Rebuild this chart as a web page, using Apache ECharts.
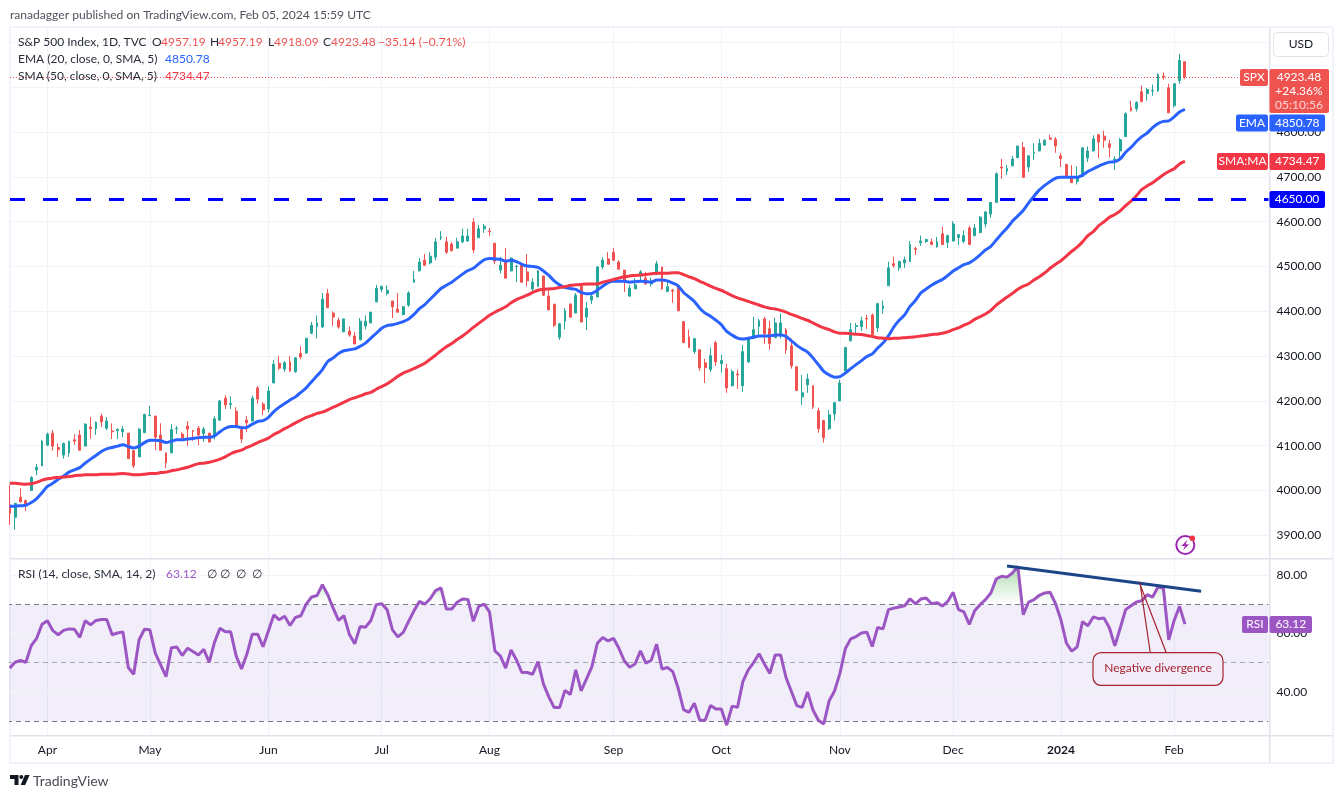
<!DOCTYPE html>
<html><head><meta charset="utf-8">
<style>html,body{margin:0;padding:0;background:#fff}#c{width:1343px;height:798px}</style>
<script src="https://cdn.jsdelivr.net/npm/echarts@6/dist/echarts.min.js"></script>
</head><body><div id="c"></div>
<script>
const opens=[3968,3940,3985,3977,4000,4046,4055,4101,4128,4096,
4079,4084,4113,4124,4099,4142,4138,4166,4139,4133,
4134,4131,4128,4089,4075,4129,4167,4166,4124,4084,
4084,4138,4126,4144,4134,4139,4127,4128,4121,4157,
4206,4192,4177,4136,4157,4155,4229,4193,4182,4240,
4284,4271,4287,4265,4306,4307,4351,4366,4365,4440,
4396,4380,4354,4356,4345,4336,4367,4374,4421,4449,
4440,4423,4405,4393,4414,4465,4490,4514,4508,4521,
4564,4555,4550,4541,4555,4557,4599,4564,4584,4579,
4552,4492,4514,4490,4500,4503,4488,4450,4456,4479,
4434,4416,4342,4378,4416,4396,4456,4387,4425,4432,
4499,4517,4532,4510,4492,4434,4450,4479,4474,4461,
4482,4499,4444,4447,4457,4377,4343,4310,4314,4285,
4270,4330,4283,4272,4234,4260,4234,4287,4339,4366,
4383,4361,4341,4345,4359,4323,4276,4209,4236,4234,
4178,4156,4138,4171,4200,4267,4334,4366,4366,4384,
4392,4363,4406,4457,4506,4497,4508,4511,4540,4553,
4556,4555,4544,4573,4554,4557,4565,4556,4586,4569,
4576,4595,4617,4643,4722,4713,4725,4743,4766,4722,
4753,4758,4771,4787,4784,4747,4728,4699,4690,4701,
4742,4758,4794,4791,4774,4738,4758,4790,4855,4852,
4890,4886,4892,4892,4925,4899,4859,4915,4957.19];
const highs=[4012,3973,4005,3980,4032,4059,4113,4129,4135,4105,
4107,4111,4126,4135,4150,4164,4154,4171,4164,4150,
4139,4144,4128,4090,4139,4171,4189,4167,4150,4084,
4148,4144,4130,4155,4135,4144,4142,4128,4166,4202,
4213,4210,4186,4145,4166,4212,4233,4197,4233,4291,
4300,4289,4300,4298,4322,4340,4376,4391,4441,4450,
4400,4386,4383,4366,4354,4385,4391,4398,4459,4456,
4458,4423,4441,4412,4445,4490,4519,4528,4532,4564,
4579,4566,4555,4564,4584,4584,4608,4593,4595,4586,
4552,4521,4541,4521,4503,4503,4528,4474,4492,4479,
4447,4416,4374,4407,4418,4441,4456,4421,4443,4501,
4521,4532,4541,4514,4492,4459,4474,4492,4488,4475,
4513,4499,4466,4450,4461,4377,4359,4341,4314,4294,
4319,4334,4303,4283,4270,4270,4325,4343,4388,4383,
4388,4379,4386,4395,4363,4339,4278,4258,4261,4234,
4185,4158,4180,4198,4247,4321,4374,4374,4388,4392,
4395,4419,4424,4511,4522,4513,4522,4557,4544,4569,
4562,4562,4566,4589,4571,4601,4573,4580,4591,4595,
4613,4622,4643,4710,4740,4727,4747,4769,4778,4749,
4775,4785,4784,4794,4789,4754,4729,4726,4723,4765,
4768,4793,4796,4803,4783,4746,4787,4844,4870,4869,
4904,4899,4906,4931,4933,4908,4908,4975,4957.19];
const lows=[3923,3913,3973,3954,3999,4034,4055,4100,4089,4075,
4071,4075,4102,4088,4099,4116,4124,4142,4135,4115,
4115,4119,4071,4050,4075,4128,4167,4090,4090,4050,
4084,4126,4116,4100,4111,4101,4109,4108,4114,4156,
4182,4182,4144,4106,4131,4155,4193,4168,4174,4240,
4269,4265,4264,4263,4293,4305,4349,4339,4363,4407,
4367,4361,4354,4343,4327,4336,4360,4374,4421,4443,
4436,4385,4398,4391,4410,4463,4490,4501,4505,4514,
4559,4528,4534,4541,4552,4555,4530,4564,4575,4568,
4505,4485,4474,4490,4465,4463,4456,4445,4454,4434,
4403,4365,4336,4360,4385,4396,4376,4358,4416,4432,
4494,4505,4512,4494,4443,4432,4450,4470,4459,4455,
4482,4448,4444,4419,4401,4330,4319,4305,4267,4240,
4265,4278,4263,4218,4232,4227,4220,4285,4339,4345,
4327,4314,4341,4339,4305,4272,4223,4191,4218,4182,
4129,4107,4135,4156,4200,4267,4334,4350,4356,4361,
4345,4354,4395,4457,4497,4490,4497,4511,4526,4546,
4553,4549,4542,4548,4541,4556,4548,4552,4548,4567,
4574,4587,4609,4643,4696,4704,4723,4742,4699,4711,
4738,4757,4769,4783,4754,4722,4699,4687,4683,4701,
4733,4757,4742,4765,4744,4716,4738,4789,4846,4846,
4868,4870,4881,4890,4917,4843,4855,4908,4918.09];
const closes=[3949,3971,3975,3968,4029,4052,4110,4126,4099,4091,
4105,4110,4110,4090,4148,4138,4152,4153,4155,4131,
4136,4137,4071,4055,4137,4170,4168,4119,4090,4062,
4136,4139,4117,4137,4132,4124,4137,4108,4160,4200,
4191,4194,4144,4115,4151,4206,4204,4180,4222,4282,
4273,4285,4267,4296,4298,4340,4369,4374,4427,4408,
4387,4365,4383,4347,4327,4378,4378,4398,4451,4456,
4447,4410,4398,4410,4441,4471,4510,4503,4523,4555,
4566,4532,4535,4555,4568,4568,4537,4584,4590,4578,
4512,4503,4474,4519,4501,4465,4468,4465,4490,4436,
4403,4369,4372,4401,4387,4436,4376,4407,4434,4499,
4514,4505,4514,4494,4465,4452,4459,4488,4461,4468,
4506,4450,4455,4445,4401,4330,4319,4339,4274,4274,
4301,4287,4290,4229,4265,4258,4310,4341,4359,4379,
4350,4328,4374,4374,4314,4278,4223,4218,4249,4187,
4138,4118,4169,4196,4240,4319,4359,4368,4379,4383,
4348,4417,4412,4497,4502,4511,4515,4549,4538,4557,
4560,4549,4555,4549,4569,4595,4571,4569,4549,4586,
4610,4622,4643,4707,4720,4719,4740,4769,4699,4747,
4755,4775,4782,4784,4769,4741,4701,4687,4699,4765,
4758,4785,4778,4782,4766,4740,4783,4841,4848,4866,
4868,4895,4893,4929,4923,4843,4908,4960,4923.48];
const ema20=[3965,3965,3966,3967,3973,3982,3995,4009,4016,4025,4032,4041,4046,4051,4061,4070,4078,4087,4093,4096,
4099,4102,4098,4095,4099,4107,4112,4112,4111,4107,4110,4113,4113,4115,4116,4118,4119,4119,4122,4131,
4139,4143,4143,4140,4141,4148,4154,4156,4163,4176,4186,4194,4202,4209,4219,4229,4243,4256,4270,4288,
4296,4306,4312,4314,4316,4322,4329,4340,4351,4362,4368,4370,4373,4377,4383,4393,4406,4415,4427,4439,
4451,4458,4465,4474,4483,4491,4496,4506,4515,4518,4517,4516,4512,4514,4511,4505,4501,4500,4498,4490,
4480,4468,4459,4453,4451,4449,4442,4439,4440,4447,4456,4464,4467,4467,4467,4465,4466,4467,4466,
4465,4470,4470,4468,4463,4457,4442,4432,4422,4407,4396,4389,4380,4370,4355,4347,4340,4338,4340,4342,
4345,4345,4345,4347,4347,4344,4334,4324,4316,4309,4296,4281,4266,4258,4253,4254,4262,4272,4281,4290,
4299,4305,4318,4329,4345,4365,4380,4392,4411,4424,4441,4450,4458,4465,4471,4480,4490,4497,4504,4508,
4516,4526,4537,4545,4559,4573,4586,4601,4613,4625,4642,4657,4671,4681,4690,4697,4699,4699,4699,4699,
4704,4712,4718,4724,4729,4733,4734,4740,4755,4766,4779,4790,4798,4810,4819,4824,4825,4834,4845,4850.78];
const sma50=[4016,4016,4015,4014,4015,4018,4023,4026,4028,4029,4030,4031,4033,4034,4035,4035,4035,4036,4036,4036,
4037,4038,4037,4035,4035,4036,4038,4038,4040,4041,4044,4046,4049,4052,4056,4060,4061,4063,4066,4070,
4075,4082,4087,4090,4096,4101,4107,4112,4117,4125,4131,4138,4144,4151,4157,4163,4167,4172,4175,4180,
4186,4191,4197,4203,4207,4211,4216,4219,4226,4232,4238,4246,4255,4262,4267,4272,4278,4284,4293,4302,
4312,4321,4328,4337,4345,4354,4364,4373,4382,4391,4398,4404,4410,4419,4426,4431,4436,4442,4447,4449,
4450,4451,4453,4455,4458,4459,4460,4461,4461,4461,4465,4468,4471,4474,4477,4479,4480,4481,4482,
4484,4485,4485,4485,4486,4486,4482,4477,4473,4467,4462,4456,4451,4447,4441,4435,4430,4426,4422,4418,
4414,4410,4407,4405,4402,4398,4393,4389,4384,4380,4374,4368,4363,4359,4354,4351,4351,4350,4349,4348,
4346,4344,4341,4340,4339,4340,4340,4341,4342,4343,4345,4346,4348,4349,4351,4354,4359,4363,4369,4374,
4382,4388,4394,4402,4414,4423,4432,4440,4449,4456,4461,4470,4477,4486,4496,4505,4513,4523,4534,4543,4555,
4569,4578,4591,4600,4610,4616,4624,4636,4646,4658,4672,4680,4687,4696,4705,4712,4718,4729,4734.47];
const rsi14=[48.1,50.1,50.7,50.1,55.8,58.3,63.1,64.3,60.9,59.5,
61,61.5,61.4,58.6,64.3,62.9,64.4,64.7,64.7,59.5,
60.1,60.5,48.3,46,57.8,61.4,61.2,53.2,49.2,45.2,
55.1,55.3,52.4,54.9,53.8,52.6,54.5,50.1,57,61.7,
60.5,60.5,52.3,47.8,52.9,59.7,59.7,55.4,60.9,66.3,
64.6,65.8,62.7,65.4,66,70,72.4,72.9,76.6,73.2,
68.6,64.4,66,59.7,56.4,62.3,62.1,64.4,69.8,70.1,
68.1,61.2,58.8,60.3,64.1,67.7,70.9,70,71.8,74.6,
75.5,68.3,68.3,70.6,71.7,71.6,64.1,69.2,70,67.3,
54,52.3,48.1,54.3,50.9,46.6,46.6,46,50.3,42.7,
38.3,34.6,34.6,40.5,39.1,47.5,40.3,44.4,48.6,56.6,
58.6,57.4,58.3,54.9,50.6,48.4,49.5,54,49.8,50.8,
56.3,47.8,48.3,46.9,41.2,33.9,33,36.1,30.3,30.3,
35.3,34.1,34.1,28.6,35.1,34.7,43.5,47.5,50,53,
49.5,46.3,52.6,52.6,44.9,40.1,35.3,34.7,39.9,33.8,
30.3,29,36.9,40.3,46.3,54.7,58.1,58.9,60.1,60.4,
55.5,62,61.5,68.1,68.6,69,
69.4,71.8,70.1,71.7,72.1,70.1,70.5,69.3,70.9,74,
68.1,67.3,63,67.7,69.8,71.5,73.8,78.6,79.5,79.2,
80.6,82.9,66.4,70.7,71.5,73,73.8,74,70.1,64.6,
56.7,53.9,55.3,64,62.6,65.6,65,65.2,61.8,55.7,
61.8,68.1,69.4,70.7,71.1,73.2,72.4,75.8,75.4,57.8,
64.4,69.2,63.12];
const priceGridTicks=[3900,4000,4100,4200,4300,4400,4500,4600,4700,4800,4900,5000];
const priceLabels=[3900,4000,4100,4200,4300,4400,4500,4600,4700,4800];
const rsiTicks=[40,60,80];
const supportLevel=4650, lastClose=4923.48;
const trendStart=[185,83], trendEnd=[221,74.4];
const tickLabels={'2023-04-03':'Apr','2023-05-01':'May','2023-06-01':'Jun','2023-07-03':'Jul','2023-08-01':'Aug','2023-09-01':'Sep','2023-10-02':'Oct','2023-11-01':'Nov','2023-12-01':'Dec','2024-01-02':'2024','2024-02-01':'Feb'};
const holidays=['2023-04-07','2023-05-29','2023-06-19','2023-07-04','2023-09-04','2023-11-23','2023-12-25','2024-01-01','2024-01-15','2024-02-19'];
const categories=[];
for(let d=Date.UTC(2023,2,23);categories.length<234;d+=864e5){
  const t=new Date(d),s=t.toISOString().slice(0,10),w=t.getUTCDay();
  if(w!==0&&w!==6&&!holidays.includes(s))categories.push(s);
}
const FONT='Lato, "Open Sans", sans-serif';
const GRIDC='#f0f3fa', UP='#26a69a', DOWN='#ef5350', PURPLE='#9c56c4';
const isTick=(i,v)=>v in tickLabels;
function T(x,y,text,fill,size,align,weight){return {type:'text',z:120,silent:true,style:{x,y,text,fill,font:(weight?weight+' ':'')+(size||12)+'px '+FONT,textAlign:align||'left',textVerticalAlign:'middle'}};}
function R(x,y,w,h,fill,r){return {type:'rect',z:110,silent:true,shape:{x,y,width:w,height:h,r:r||0},style:{fill}};}
function tag(xl,xr,yc,hh,fill,label,val,xv){return [R(xl,yc-hh,xr-xl,2*hh,fill,2),T((xl+xr)/2,yc,label,'#fff',12,'center'),R(1269.5,yc-hh,xv-1269.5,2*hh,fill,2),T((1269.5+xv)/2,yc,val,'#fff',12,'center')];}
const hLine=(v,c,type,w)=>({yAxis:v,lineStyle:{color:c,type:type,width:w||1}});
const elements=[
 {type:'rect',z:0,silent:true,shape:{x:10,y:27,width:1323,height:736},style:{fill:'none',stroke:'#f0f3fa',lineWidth:2}},
 R(0,0,9,798,'#fff'),
 R(11,558,1258,1.5,'#e0e3eb'),R(1269,558,64,1.5,'#e0e3eb'),R(11,735,1322,1.5,'#e0e3eb'),R(1269,28,1.5,734,'#e0e3eb'),
 T(10,15,'ranadagger published on TradingView.com, Feb 05, 2024 15:59 UTC','#50535e',12.1),
 T(18,42,'S&P 500 Index, 1D, TVC','#2a2e39',12),
 T(152,42,'O','#2a2e39',12),T(161,42,'4957.19',DOWN,12),
 T(210,42,'H','#2a2e39',12),T(218,42,'4957.19',DOWN,12),
 T(268,42,'L','#2a2e39',12),T(274,42,'4918.09',DOWN,12),
 T(323,42,'C','#2a2e39',12),T(331,42,'4923.48',DOWN,12),T(378,42,'\u221235.14 (\u22120.71%)',DOWN,12),
 T(18,59,'EMA (20, close, 0, SMA, 5)','#2a2e39',12),T(165,59,'4850.78','#2962ff',12),
 T(18,76,'SMA (50, close, 0, SMA, 5)','#2a2e39',12),T(165,76,'4734.47','#f23645',12),
 T(18,574,'RSI (14, close, SMA, 14, 2)','#2a2e39',12),T(166,574,'63.12',PURPLE,12),
 T(207,574,'\u2205','#2a2e39',12),T(220,574,'\u2205','#2a2e39',12),T(236,574,'\u2205','#2a2e39',12),T(252,574,'\u2205','#2a2e39',12),
 {type:'rect',z:110,silent:true,shape:{x:1273.5,y:32.5,width:55,height:24,r:4},style:{fill:'#fff',stroke:'#e0e3eb',lineWidth:1}},
 T(1301,44.5,'USD','#131722',12,'center'),
 R(1240,69,28,17,DOWN,2),T(1254,77.5,'SPX','#fff',12,'center'),
 R(1269.5,69,59.5,44,DOWN,2),
 T(1299,77.5,'4923.48','#fff',12,'center'),T(1299,91.5,'+24.36%','#fff',12,'center'),T(1299,105.5,'05:10:56','#fbd5d4',12,'center'),
 ...tag(1236,1268,123,8.5,'#2962ff','EMA','4850.78',1325),
 ...tag(1217,1268,161.5,8.5,'#f23645','SMA:MA','4734.47',1325),
 R(1269.5,191,55.5,17,'#0000ff',2),T(1297,199.5,'4650.00','#fff',12,'center'),
 ...tag(1242,1268,624.5,8.5,PURPLE,'RSI','63.12',1312),
 // callout
 {type:'polygon',z:105,silent:true,shape:{points:[[1140.3,585],[1150.3,653],[1166.3,653]]},style:{fill:'rgba(178,40,51,0)',stroke:'#a5222f',lineWidth:1.2}},
 {type:'rect',z:106,silent:true,shape:{x:1093,y:652.7,width:130,height:32.6,r:8},style:{fill:'#f1ecf8',stroke:'#a5222f',lineWidth:1.2}},
 T(1158,668.5,'Negative divergence','#a5222f',12,'center'),
 // lightning icon
 {type:'circle',z:110,silent:true,shape:{cx:1185.3,cy:545,r:9},style:{fill:'#fff',stroke:'#9c27b0',lineWidth:2}},
 {type:'polygon',z:111,silent:true,shape:{points:[[1187.5,539.5],[1181.5,546],[1185,546],[1183,550.5],[1189,544.2],[1185.5,544.2]]},style:{fill:'#9c27b0'}},
 {type:'circle',z:112,silent:true,shape:{cx:1192.3,cy:538.3,r:2.8},style:{fill:'#f23645'}},
 // logo
 {type:'polygon',z:110,silent:true,shape:{points:[[10,775],[18.5,775],[18.5,785],[14.5,785],[14.5,779],[10,779]]},style:{fill:'#131722'}},
 {type:'circle',z:110,silent:true,shape:{cx:21.3,cy:777,r:2},style:{fill:'#131722'}},
 {type:'polygon',z:110,silent:true,shape:{points:[[25,775],[29.6,775],[25.2,785],[20.6,785]]},style:{fill:'#131722'}},
 T(33,781,'TradingView','#4a4d57',14)
];
const chart=echarts.init(document.getElementById('c'),null,{renderer:'canvas'});
const vSplit={show:true,alignWithLabel:true,interval:isTick,lineStyle:{color:GRIDC,width:1}};
const obGradient=new echarts.graphic.LinearGradient(0,568,0,604,[{offset:0,color:'rgba(76,175,80,0.42)'},{offset:1,color:'rgba(76,175,80,0)'}],true);
chart.setOption({
 animation:false,backgroundColor:'#fff',
 graphic:{elements},
 axisPointer:{show:false},
 grid:[{left:7,top:28,width:1261.5,height:530,containLabel:false},{left:7,top:559,width:1261.5,height:177,containLabel:false}],
 xAxis:[
  {gridIndex:0,type:'category',data:categories,boundaryGap:true,axisLine:{show:false},axisTick:{show:false},axisLabel:{show:false},splitLine:vSplit},
  {gridIndex:1,type:'category',data:categories,boundaryGap:true,axisLine:{show:false},axisTick:{show:false},splitLine:vSplit,
   axisLabel:{show:true,interval:isTick,margin:8,fontFamily:FONT,fontSize:12,color:'#131722',hideOverlap:false,
    formatter:v=>tickLabels[v]==='2024'?'{b|2024}':(tickLabels[v]||''),rich:{b:{fontWeight:'bold',fontFamily:FONT,fontSize:12,color:'#131722'}}}}
 ],
 yAxis:[
  {gridIndex:0,type:'value',position:'right',min:3849.3,max:5032.4,axisLine:{show:false},axisTick:{show:false},splitLine:{show:false},
   axisLabel:{customValues:priceLabels,margin:8,fontFamily:FONT,fontSize:12,color:'#131722',formatter:v=>v.toFixed(2)}},
  {gridIndex:1,type:'value',position:'right',min:24.9,max:85.4,axisLine:{show:false},axisTick:{show:false},splitLine:{show:false},
   axisLabel:{customValues:rsiTicks,margin:8,fontFamily:FONT,fontSize:12,color:'#131722',formatter:v=>v.toFixed(2)}}
 ],
 series:[
  {name:'SPX',type:'candlestick',xAxisIndex:0,yAxisIndex:0,barWidth:2.4,z:2,
   data:opens.map((o,i)=>[o,closes[i],lows[i],highs[i]]),
   itemStyle:{color:UP,color0:DOWN,borderColor:UP,borderColor0:DOWN,borderWidth:1},
   markLine:{silent:true,symbol:'none',z:1,animation:false,label:{show:false},
    data:priceGridTicks.map(v=>hLine(v,GRIDC,'solid')).concat([hLine(lastClose,DOWN,[1,2])])}},
  {name:'EMA',type:'line',xAxisIndex:0,yAxisIndex:0,data:ema20,showSymbol:false,symbol:'none',z:3,smooth:0.2,lineStyle:{color:'#2962ff',width:3}},
  {name:'SMA',type:'line',xAxisIndex:0,yAxisIndex:0,data:sma50,showSymbol:false,symbol:'none',z:3,smooth:0.2,lineStyle:{color:'#f23645',width:3},
   markLine:{silent:true,symbol:'none',z:4,animation:false,label:{show:false},
    data:[{yAxis:supportLevel,lineStyle:{color:'#0000ff',width:3,type:[15,18],dashOffset:30}}]}},
  {name:'obBase',type:'line',xAxisIndex:1,yAxisIndex:1,stack:'ob',data:rsi14.map(()=>70),symbol:'none',lineStyle:{opacity:0},z:1},
  {name:'obFill',type:'line',xAxisIndex:1,yAxisIndex:1,stack:'ob',data:rsi14.map(r=>Math.max(r-70,0)),symbol:'none',lineStyle:{opacity:0},areaStyle:{color:obGradient,opacity:1},z:1},
  {name:'RSI',type:'line',xAxisIndex:1,yAxisIndex:1,data:rsi14,showSymbol:false,symbol:'none',z:3,lineStyle:{color:PURPLE,width:3},
   markArea:{silent:true,z:0,itemStyle:{color:'rgba(126,87,194,0.1)'},data:[[{yAxis:70},{yAxis:30}]]},
   markLine:{silent:true,symbol:'none',z:1,animation:false,label:{show:false},
    data:rsiTicks.map(v=>hLine(v,GRIDC,'solid')).concat([hLine(70,'#787b86',[5,4]),hLine(50,'rgba(120,123,134,0.6)',[5,4]),hLine(30,'#787b86',[5,4])])}},
  {name:'Divergence',type:'line',xAxisIndex:1,yAxisIndex:1,symbol:'none',z:4,lineStyle:{color:'#1c4587',width:3},
   data:[[categories[trendStart[0]],trendStart[1]],[categories[trendEnd[0]],trendEnd[1]]]}
 ]
});
</script></body></html>
